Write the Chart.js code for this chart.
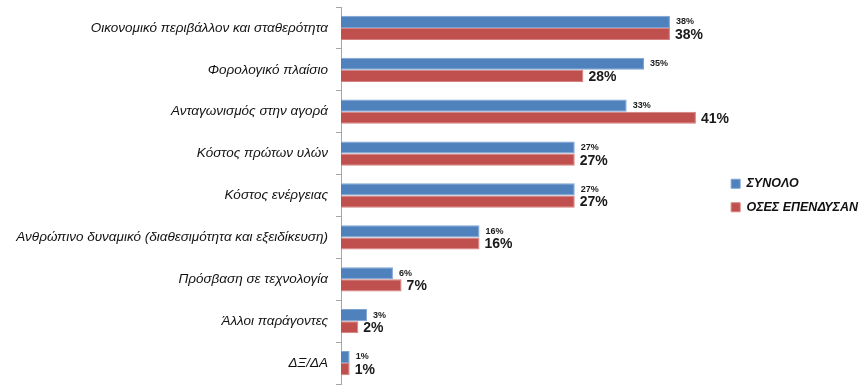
<!DOCTYPE html>
<html>
<head>
<meta charset="utf-8">
<script src="https://cdn.jsdelivr.net/npm/chart.js@4/dist/chart.umd.min.js"></script>
<style>
  html, body { margin: 0; padding: 0; background: #fff; }
  #wrap { width: 868px; height: 391px; position: relative; }
</style>
</head>
<body>
<div id="wrap"><canvas id="barChart"></canvas></div>
<script>
// --- Data ---
const categories = [
  "Οικονομικό περιβάλλον και σταθερότητα",
  "Φορολογικό πλαίσιο",
  "Ανταγωνισμός στην αγορά",
  "Κόστος πρώτων υλών",
  "Κόστος ενέργειας",
  "Ανθρώπινο δυναμικό (διαθεσιμότητα και εξειδίκευση)",
  "Πρόσβαση σε τεχνολογία",
  "Άλλοι παράγοντες",
  "ΔΞ/ΔΑ"
];
const totalValues = [38, 35, 33, 27, 27, 16, 6, 3, 1];
const investedValues = [38, 28, 41, 27, 27, 16, 7, 2, 1];
const seriesNames = ["ΣΥΝΟΛΟ", "ΟΣΕΣ ΕΠΕΝΔΥΣΑΝ"];

// --- Value labels next to bars ---
const valueLabels = {
  id: "valueLabels",
  afterDatasetsDraw(chart) {
    const ctx = chart.ctx;
    ctx.save();
    ctx.fillStyle = "#1a1a1a";
    ctx.textBaseline = "middle";
    ctx.textAlign = "left";
    chart.data.datasets.forEach((ds, i) => {
      const meta = chart.getDatasetMeta(i);
      ctx.font = i === 0 ? "bold 9px 'Liberation Sans'" : "bold 14px 'Liberation Sans'";
      meta.data.forEach((bar, j) => {
        ctx.fillText(ds.data[j] + "%", bar.x + (i === 0 ? 6 : 5), bar.y + (i === 0 ? 0 : 1));
      });
    });
    ctx.restore();
  }
};

// --- Render Chart ---
const ctx = document.getElementById("barChart").getContext("2d");
new Chart(ctx, {
  type: "bar",
  data: {
    labels: categories,
    datasets: [
      {
        label: seriesNames[0],
        data: totalValues,
        backgroundColor: "#4F81BD",
        borderColor: "#7DA3D3",
        borderWidth: 1,
        categoryPercentage: 0.58,
        barPercentage: 1
      },
      {
        label: seriesNames[1],
        data: investedValues,
        backgroundColor: "#C0504D",
        borderColor: "#D4807E",
        borderWidth: 1,
        categoryPercentage: 0.58,
        barPercentage: 1
      }
    ]
  },
  options: {
    indexAxis: "y",
    responsive: true,
    maintainAspectRatio: false,
    animation: false,
    layout: { padding: { top: 7, bottom: 7, right: 0 } },
    plugins: {
      legend: {
        position: "right",
        labels: {
          boxWidth: 9,
          boxHeight: 9,
          padding: 11,
          color: "#111",
          font: { family: "'Liberation Sans'", size: 12.5, style: "italic", weight: "bold" }
        }
      },
      tooltip: { enabled: false }
    },
    scales: {
      x: {
        display: false,
        min: 0,
        max: 43.8
      },
      y: {
        afterFit: (scale) => {
          scale.width = 341;
          scale.paddingTop = 0;
          scale.paddingBottom = 0;
        },
        ticks: {
          color: "#111",
          padding: 8,
          font: { family: "'Liberation Sans'", size: 13.5, style: "italic" }
        },
        grid: {
          offset: true,
          drawOnChartArea: false,
          tickLength: 5,
          color: "#a6a6a6"
        },
        border: { color: "#a6a6a6" }
      }
    }
  },
  plugins: [valueLabels]
});
</script>
</body>
</html>
